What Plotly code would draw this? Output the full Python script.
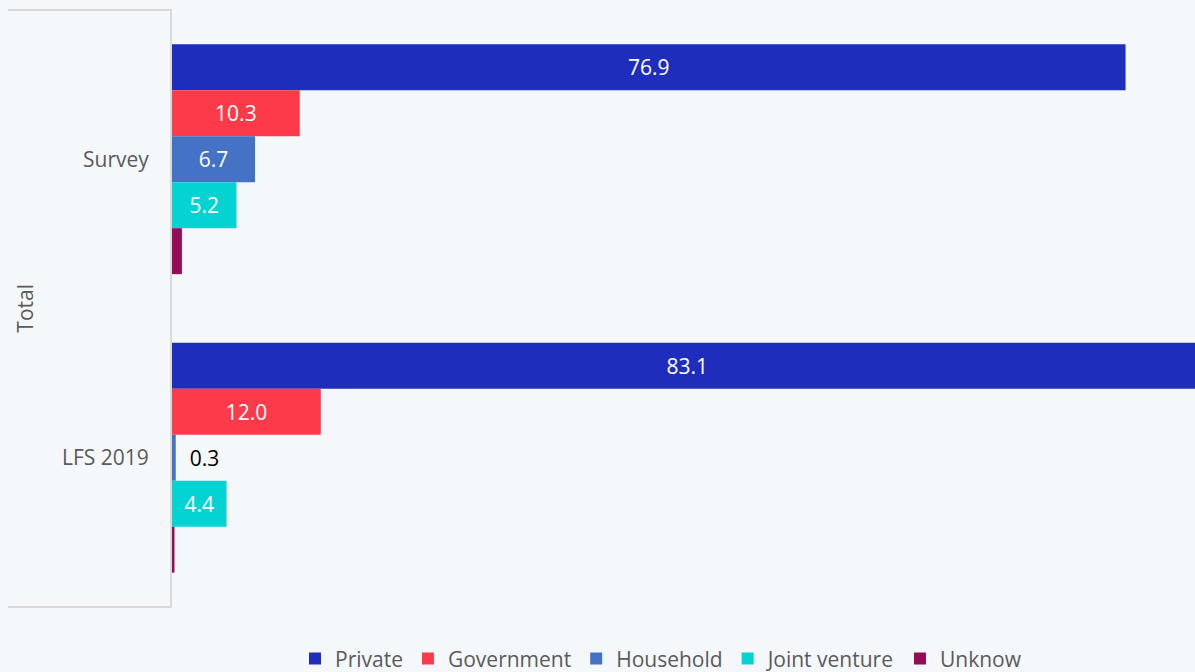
import plotly.graph_objects as go

# Employment share by sector (%), two sources under one "Total" group
group_label = "Total"
sources = ["Survey", "LFS 2019"]

series_names = ["Private", "Government", "Household", "Joint venture", "Unknow"]
private = [76.9, 83.1]
government = [10.3, 12.0]
household = [6.7, 0.3]
joint_venture = [5.2, 4.4]
unknow = [0.8, 0.2]

colors = ["#1f2dbd", "#fd3a4a", "#4472c4", "#05d3d3", "#960b56"]
show_labels = [True, True, True, True, False]

FONT = "Open Sans"
GREY = "#5a5a5a"
LINE = "#d9d9d9"
NBSP = "\u00a0"

fig = go.Figure()
for name, vals, col, lab in zip(series_names,
                                [private, government, household, joint_venture, unknow],
                                colors, show_labels):
    # tiny bars carry their value outside the bar, with a little extra padding
    positions = ["inside" if v >= 2 else "outside" for v in vals]
    labels = [(f"{v:.1f}" if p == "inside" else NBSP * 2 + f"{v:.1f}")
              for v, p in zip(vals, positions)]
    fig.add_trace(go.Bar(
        y=sources,
        x=vals,
        name=name,
        orientation="h",
        marker=dict(color=col, line=dict(width=0)),
        text=labels if lab else None,
        textposition=positions if lab else "none",
        insidetextanchor="middle",
        insidetextfont=dict(color="white", size=21),
        outsidetextfont=dict(color="black", size=21),
        cliponaxis=True,
        hoverinfo="x+name",
    ))

# group bracket: dividers above and below the category labels, plus group label
label_x0 = -0.1603
fig.add_shape(type="line", xref="paper", yref="paper", x0=label_x0, x1=0, y0=1, y1=1,
              line=dict(color=LINE, width=2))
fig.add_shape(type="line", xref="paper", yref="paper", x0=label_x0, x1=0, y0=0, y1=0,
              line=dict(color=LINE, width=2))
fig.add_annotation(text=group_label, xref="paper", yref="paper", x=-0.1445, y=0.5,
                   xanchor="center", yanchor="middle", textangle=-90, showarrow=False,
                   font=dict(family=FONT, size=21, color=GREY))

fig.update_layout(
    width=1195, height=672,
    barmode="group",
    bargap=0.23,
    bargroupgap=0,
    paper_bgcolor="#f5f8fa",
    plot_bgcolor="#f5f8fa",
    font=dict(family=FONT, size=21, color=GREY),
    margin=dict(l=172, r=0, t=10, b=65, autoexpand=False),
    uniformtext=dict(mode="show", minsize=12),
    showlegend=True,
    legend=dict(orientation="h", x=0.478, xanchor="center",
                yref="container", y=0.0195, yanchor="middle",
                font=dict(size=21, color=GREY), traceorder="normal"),
    xaxis=dict(range=[0, 82.5], showticklabels=False, showgrid=False,
               zeroline=False, showline=False),
    yaxis=dict(type="category", autorange="reversed", showline=True,
               linecolor=LINE, linewidth=2, ticks="", ticklabelstandoff=17,
               tickfont=dict(size=21, color=GREY), showgrid=False),
)

fig.write_html("out.html")
